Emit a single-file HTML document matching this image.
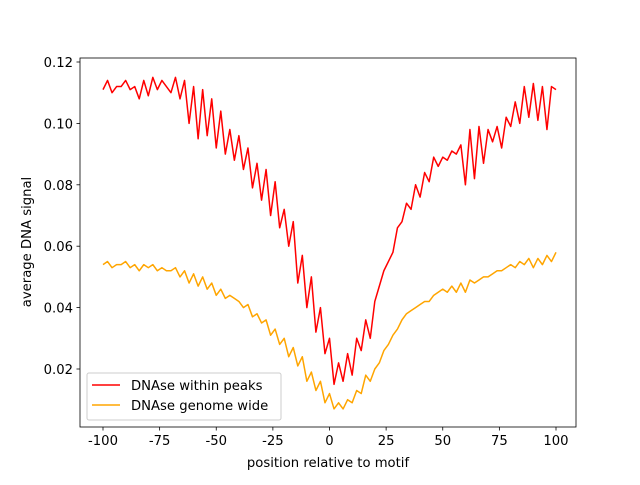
<!DOCTYPE html>
<html><head><meta charset="utf-8"><style>
body{margin:0;background:#fff}
svg text{font-family:"DejaVu Sans","Liberation Sans",sans-serif;font-size:13.2px;fill:#000}
</style></head><body>
<svg id="chart" width="640" height="480" xmlns="http://www.w3.org/2000/svg"></svg>
<script>
const xs=[];for(let i=-100;i<=100;i+=2)xs.push(i);
const peaks=[0.111,0.114,0.110,0.112,0.112,0.114,0.111,0.112,0.108,0.114,0.109,0.115,0.111,0.114,0.112,0.110,0.115,0.108,0.114,0.100,0.112,0.095,0.111,0.096,0.108,0.092,0.104,0.090,0.098,0.088,0.096,0.085,0.092,0.079,0.087,0.075,0.085,0.070,0.081,0.066,0.072,0.060,0.068,0.048,0.057,0.040,0.050,0.032,0.040,0.025,0.030,0.015,0.022,0.016,0.025,0.018,0.030,0.026,0.036,0.030,0.042,0.047,0.052,0.055,0.058,0.066,0.068,0.074,0.072,0.080,0.076,0.084,0.081,0.089,0.086,0.089,0.088,0.091,0.090,0.093,0.080,0.098,0.082,0.099,0.087,0.098,0.094,0.099,0.092,0.102,0.099,0.107,0.100,0.112,0.102,0.113,0.101,0.112,0.098,0.112,0.111];
const genome=[0.054,0.055,0.053,0.054,0.054,0.055,0.053,0.054,0.052,0.054,0.053,0.054,0.052,0.053,0.052,0.052,0.053,0.050,0.052,0.048,0.051,0.047,0.050,0.046,0.048,0.044,0.046,0.043,0.044,0.043,0.042,0.040,0.041,0.037,0.038,0.035,0.036,0.031,0.033,0.028,0.030,0.024,0.027,0.021,0.024,0.016,0.019,0.013,0.016,0.009,0.012,0.007,0.009,0.007,0.010,0.009,0.013,0.012,0.018,0.016,0.020,0.022,0.026,0.028,0.031,0.033,0.036,0.038,0.039,0.040,0.041,0.042,0.042,0.044,0.045,0.046,0.045,0.047,0.045,0.048,0.045,0.049,0.048,0.049,0.050,0.050,0.051,0.052,0.052,0.053,0.054,0.053,0.055,0.054,0.056,0.053,0.056,0.054,0.057,0.055,0.058];
const xTicks=[-100,-75,-50,-25,0,25,50,75,100];
const yTicks=[0.02,0.04,0.06,0.08,0.10,0.12];
const yTickLabels=["0.02","0.04","0.06","0.08","0.10","0.12"];
const L=80,R=576,T=58,B=427;
const X=v=>329.5+v*2.265;
const Y=v=>369-(v-0.02)*3070;
const svg=document.getElementById('chart');
const NS='http://www.w3.org/2000/svg';
function mk(t,a,p){const e=document.createElementNS(NS,t);for(const k in a)e.setAttribute(k,a[k]);(p||svg).appendChild(e);return e;}
function line(vals,color,name){
  const d=vals.map((v,i)=>(i?'L':'M')+X(xs[i]).toFixed(2)+','+Y(v).toFixed(2)).join('');
  const p=mk('path',{d:d,fill:'none',stroke:color,'stroke-width':1.5,'stroke-linejoin':'round'});
  
  
}
line(peaks,'#ff0000','series-dnase-within-peaks');
line(genome,'#ffa500','series-dnase-genome-wide');
const frame=mk('rect',{x:L,y:T,width:R-L,height:B-T,fill:'none',stroke:'#000','stroke-width':0.8});


xTicks.forEach(v=>{
  const t=mk('line',{x1:X(v),x2:X(v),y1:B,y2:B+3.5,stroke:'#000','stroke-width':0.8});
  
  
  const l=mk('text',{x:X(v),y:B+18,'text-anchor':'middle'});l.textContent=String(v);
  
  
});
yTicks.forEach((v,i)=>{
  const t=mk('line',{x1:L-3.5,x2:L,y1:Y(v),y2:Y(v),stroke:'#000','stroke-width':0.8});
  
  
  const l=mk('text',{x:L-7,y:Y(v)+5,'text-anchor':'end'});l.textContent=yTickLabels[i];
  
  
});
const xl=mk('text',{x:328,y:467,'text-anchor':'middle'});xl.textContent='position relative to motif';


const yl=mk('text',{x:31,y:242,'text-anchor':'middle',transform:'rotate(-90 31 242)'});yl.textContent='average DNA signal';


const lg=mk('g',{});


mk('rect',{x:87,y:373,width:194,height:47,rx:2,fill:'#fff','fill-opacity':0.8,stroke:'#ccc'},lg);
[['DNAse within peaks','#ff0000'],['DNAse genome wide','#ffa500']].forEach((e,i)=>{
  const g=mk('g',{},lg);
  
  
  const y=385+i*20;
  mk('line',{x1:92,x2:120,y1:y,y2:y,stroke:e[1],'stroke-width':1.5},g);
  const t=mk('text',{x:131,y:y+5},g);t.textContent=e[0];
});
</script>
</body></html>
